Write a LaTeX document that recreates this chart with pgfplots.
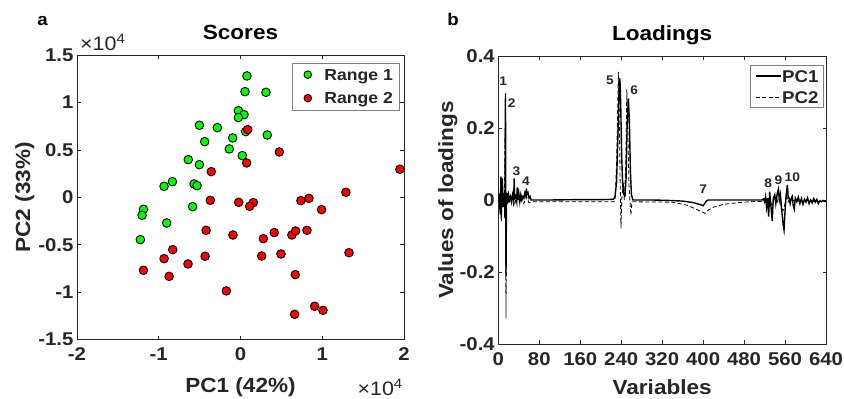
\documentclass[border=0pt]{standalone}
\usepackage{pgfplots}
\pgfplotsset{compat=1.18}
\usepackage{fontspec}
\setmainfont{Liberation Sans}[FakeStretch=1.1]
\definecolor{axgray}{HTML}{262626}
\definecolor{mgreen}{HTML}{00FF00}
\definecolor{mred}{HTML}{FF0000}
\begin{document}
\begin{tikzpicture}[x=1pt,y=1pt]
\useasboundingbox (0,0) rectangle (844,399);
\pgfplotsset{
  myax/.style={
    scale only axis,
    axis line style={axgray, line width=0.8pt},
    tick style={axgray, line width=0.8pt},
    major tick length=3.5pt,
    tick align=inside,
    ticklabel style={font=\fontsize{18.5}{22}\selectfont\bfseries, text=axgray},
    label style={font=\fontsize{20.5}{24}\selectfont\bfseries, text=axgray},
    title style={font=\fontsize{20.5}{24}\selectfont\bfseries, text=black, at={(axis description cs:0.5,1)}, anchor=base, yshift=9.6pt},
    xticklabel style={yshift=-5pt},
    legend cell align=left,
  }
}
% ---------------- Scores ----------------
\begin{axis}[myax,
  at={(77pt,59.7pt)}, anchor=south west,
  width=327pt, height=284pt,
  xmin=-2, xmax=2, ymin=-1.5, ymax=1.5,
  xtick={-2,-1,0,1,2}, xticklabels={-2,-1,0,1,2},
  ytick={-1.5,-1,-0.5,0,0.5,1,1.5}, yticklabels={-1.5,-1,-0.5,0,0.5,1,1.5},
  title={Scores},
  xlabel={PC1 (42\%)},
  ylabel={PC2 (33\%)},
  xlabel style={at={(axis description cs:0.5,0)}, anchor=base, yshift=-52.7pt},
  ylabel style={at={(axis description cs:-0.1437,0.5)}, anchor=base},
  legend style={at={(1,1)}, anchor=north east, xshift=-4pt, yshift=-7.2pt,
    font=\fontsize{16}{19}\selectfont\bfseries, text=axgray, draw=gray, line width=0.8pt,
    inner xsep=6.7pt, inner ysep=0pt, row sep=0pt, column sep=0pt,
    nodes={inner sep=0pt, text height=17.5pt, text depth=6pt}},
  legend image code/.code={\path[draw=none, fill=none] (-8.7pt,-4pt) rectangle (16.6pt,4pt); \draw[#1, mark size=3.8pt] plot coordinates {(0pt,0pt)};},
  clip=false,
]
\addplot[only marks, mark=*, mark size=4.3pt, mark options={fill=mgreen, draw=black, line width=0.9pt}] table {
x y
0.079 1.282
0.055 1.116
0.312 1.109
-0.026 0.915
0.043 0.873
-0.026 0.842
-0.503 0.761
-0.283 0.736
0.063 0.694
0.327 0.658
-0.096 0.627
-0.438 0.588
-0.137 0.511
-0.639 0.398
-0.503 0.345
0.022 0.440
-0.935 0.116
-0.833 0.165
-0.568 0.141
-0.531 0.123
-0.585 -0.099
-1.187 -0.127
-1.204 -0.190
-0.903 -0.271
-1.225 -0.447
};
\addlegendentry{Range 1}
\addplot[only marks, mark=*, mark size=4.3pt, mark options={fill=mred, draw=black, line width=0.9pt}] table {
x y
0.088 0.715
0.475 0.479
0.075 0.363
-0.357 0.271
1.950 0.296
-0.369 -0.032
-0.022 -0.053
0.157 -0.056
0.112 -0.095
0.739 -0.035
0.837 -0.011
1.289 0.053
0.992 -0.130
-0.421 -0.349
-0.092 -0.398
0.279 -0.437
0.413 -0.373
0.629 -0.398
0.674 -0.356
0.813 -0.349
1.327 -0.585
0.495 -0.599
0.259 -0.620
-0.433 -0.623
-0.935 -0.648
-0.829 -0.553
-0.642 -0.704
-1.187 -0.771
-0.873 -0.835
-0.173 -0.989
0.670 -0.817
0.907 -1.151
1.009 -1.194
0.662 -1.236
};
\addlegendentry{Range 2}
\end{axis}
% ---------------- Loadings ----------------
\begin{axis}[myax,
  at={(498.3pt,55pt)}, anchor=south west,
  width=327.7pt, height=288pt,
  xmin=0, xmax=640, ymin=-0.4, ymax=0.4,
  xtick={0,80,160,240,320,400,480,560,640}, xticklabels={0,80,160,240,320,400,480,560,640},
  ytick={-0.4,-0.2,0,0.2,0.4}, yticklabels={-0.4,-0.2,0,0.2,0.4},
  title={Loadings},
  xlabel={Variables},
  ylabel={Values of loadings},
  xlabel style={at={(axis description cs:0.5,0)}, anchor=base, yshift=-50.3pt},
  ylabel style={at={(axis description cs:-0.138,0.5)}, anchor=base},
  legend style={at={(1,1)}, anchor=north east, xshift=-2.7pt, yshift=-9pt,
    font=\fontsize{17}{20}\selectfont\bfseries, text=axgray, draw=gray, line width=0.8pt,
    inner xsep=4.4pt, inner ysep=0pt, row sep=0pt, column sep=0pt,
    nodes={inner sep=0pt, text height=16.6pt, text depth=4.4pt}},
  legend image code/.code={\path[draw=none, fill=none] (0pt,-3pt) rectangle (26.6pt,3pt); \draw[#1] (0pt,0pt) -- (25.6pt,0pt);},
]
\addplot[black, line width=1.4pt] table {
x y
0 0
2 0.01
3 -0.02
4 -0.04
5 0.065
6 -0.05
7 0.03
8 0.06
9 -0.01
10 0.01
11 -0.02
12 0.02
13 -0.05
14 0.296
15 -0.213
16 0.01
17 0.02
18 -0.01
20 0.015
22 0.0
24 0.01
26 -0.005
28 0.015
30 0.0
31 0.06
32 0.005
34 0.01
36 -0.005
37 0.035
38 0.0
40 0.02
42 -0.005
44 0.015
46 0.0
48 0.01
50 0.005
52 0.02
54 0.01
55 0.032
56 0.015
58 0.02
60 0.005
62 0.01
64 0.0
100 0.0
150 0.001
200 0.001
225 0.002
228 0.01
231 0.05
234 0.2
236 0.31
237.5 0.338
239 0.27
241 0.12
243 0.04
245 0.015
247.5 0.012
249.5 0.06
251.5 0.2
254 0.282
256 0.22
258 0.08
260 0.015
263 0.0
300 0.0
330 -0.001
360 -0.003
380 -0.007
395 -0.013
400 -0.016
403 -0.01
406 -0.003
410 0.0
460 0.0
515 0.0
518 0.003
520 -0.005
522 0.01
524 -0.02
526 0.005
528 -0.046
530 0.023
532 -0.01
535 -0.058
537 0.005
540 0.015
542 -0.01
545 0.02
547 0.03
549 0.0
551 0.015
553 -0.02
555 -0.05
556.5 -0.07
558 -0.083
560 -0.03
562 0.01
564.5 0.042
566 0.01
568 0.005
570 -0.01
572 0.005
574 0.01
576 -0.015
578 -0.025
580 0.005
583 -0.005
586 0.008
589 -0.01
592 0.004
595 -0.012
598 0.002
601 -0.006
604 0.006
607 -0.01
610 0.0
613 -0.008
616 0.004
619 -0.006
622 0.002
625 -0.01
628 -0.002
631 -0.005
634 -0.001
637 -0.004
640 -0.003
};
\addlegendentry{PC1}
\addplot[black, line width=0.8pt, dash pattern=on 4pt off 2.5pt] table {
x y
0 0
3 -0.01
4 -0.03
5 0.02
6 -0.06
7 0.0
8 0.03
9 -0.02
11 0.01
12 -0.02
13 0.2
14 0.05
15 -0.329
16 -0.02
18 0.0
20 -0.005
22 0.005
25 -0.005
28 0.01
30 -0.019
32 0.02
34 -0.005
37 0.01
40 -0.005
45 0.0
50 -0.01
55 0.01
60 -0.008
65 -0.005
150 -0.005
225 -0.005
228 0.0
231 0.1
234.5 0.356
236 0.25
238 0.05
239.6 -0.079
241 0.0
244 0.05
246 0.0
249 0.1
251 0.307
253 0.2
255 0.05
257 0.0
259 -0.042
261 -0.005
340 -0.006
370 -0.015
390 -0.028
403.7 -0.037
410 -0.028
420 -0.02
440 -0.012
470 -0.007
500 -0.004
520 -0.004
525 -0.01
530 0.005
535 -0.02
540 0.01
545 -0.01
548 0.02
552 -0.015
556 -0.03
560 -0.01
563 0.015
566 -0.005
570 0.005
580 -0.005
600 0.0
620 -0.005
640 -0.003
};
\addlegendentry{PC2}
\begin{scope}[every node/.style={font=\fontsize{12.5}{15}\selectfont\bfseries, text=axgray}]
\node at (axis cs:9.8,0.331) {1};
\node at (axis cs:26.2,0.270) {2};
\node at (axis cs:35.2,0.081) {3};
\node at (axis cs:54.1,0.051) {4};
\node at (axis cs:218.2,0.333) {5};
\node at (axis cs:265.6,0.306) {6};
\node at (axis cs:400.4,0.030) {7};
\node at (axis cs:527.3,0.046) {8};
\node at (axis cs:546.9,0.054) {9};
\node at (axis cs:574.2,0.063) {10};
\end{scope}
\end{axis}
% panel letters and exponent labels
\node[anchor=base, font=\fontsize{17}{20}\selectfont\bfseries] at (42.7,373) {a};
\node[anchor=base, font=\fontsize{17}{20}\selectfont\bfseries] at (453,373) {b};
\node[anchor=base west, inner sep=0pt, font=\fontsize{19.5}{22}\selectfont, text=axgray] at (80,348.3) {×10\textsuperscript{4}};
\node[anchor=base east, inner sep=0pt, font=\fontsize{19.5}{22}\selectfont, text=axgray] at (403,3) {×10\textsuperscript{4}};
\end{tikzpicture}
\end{document}
